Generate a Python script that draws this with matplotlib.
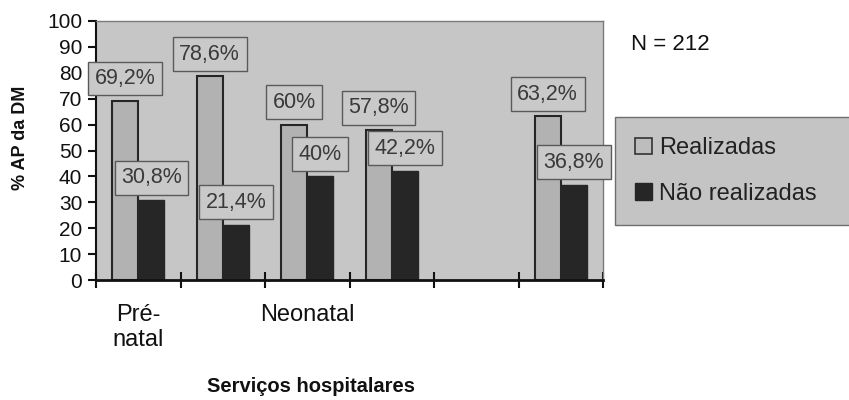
import numpy as np
import matplotlib
matplotlib.use("Agg")
import matplotlib.pyplot as plt
from matplotlib.patches import Patch

plt.rcParams["font.family"] = ["Liberation Sans", "DejaVu Sans"]

# ===============================
# Dados
# ===============================
servicos = ["Pré-\nnatal", "", "Neonatal", "", "", ""]
realizadas = [69.2, 78.6, 60.0, 57.8, np.nan, 63.2]
nao_realizadas = [30.8, 21.4, 40.0, 42.2, np.nan, 36.8]
rotulos_real = ["69,2%", "78,6%", "60%", "57,8%", "", "63,2%"]
rotulos_nao = ["30,8%", "21,4%", "40%", "42,2%", "", "36,8%"]
yticks = list(range(0, 101, 10))

# ===============================
# Figura
# ===============================
fig = plt.figure(figsize=(8.49, 4.0), dpi=100, facecolor="white")
ax = fig.add_axes([0.1131, 0.30, 0.5972, 0.6475])
ax.set_facecolor("#c6c6c6")

x = np.arange(len(servicos))
larg = 0.31

ax.bar(x - larg / 2, realizadas, larg, color="#b2b2b2",
       edgecolor="#262626", linewidth=1.5, zorder=2)
ax.bar(x + larg / 2, nao_realizadas, larg, color="#262626",
       edgecolor="#262626", linewidth=1.0, zorder=2)

caixa = dict(boxstyle="square,pad=0.3", facecolor="#c9c9c9",
             edgecolor="#5a5a5a", linewidth=1.0)

for i in range(len(servicos)):
    for dx, v, txt in [(-larg / 2, realizadas[i], rotulos_real[i]),
                       (larg / 2, nao_realizadas[i], rotulos_nao[i])]:
        if txt == "":
            continue
        ax.annotate(txt, xy=(x[i] + dx, v), xytext=(0, 8.5),
                    textcoords="offset points", ha="center", va="bottom",
                    fontsize=15.5, color="#3a3a3a", bbox=caixa, zorder=5)

ax.set_xlim(-0.5, len(servicos) - 0.5)
ax.set_ylim(0, 100)
ax.set_yticks(yticks)
ax.tick_params(axis="y", direction="out", length=6, width=1.5,
               labelsize=15, pad=4, colors="#111111")

ax.set_xticks(x)
ax.set_xticklabels(servicos, fontsize=17, color="#111111")
ax.tick_params(axis="x", which="major", length=0, pad=17)
ax.set_xticks(np.arange(len(servicos) + 1) - 0.5, minor=True)
ax.tick_params(axis="x", which="minor", direction="inout", length=12,
               width=1.5, color="#111111")

ax.spines["left"].set_color("#111111")
ax.spines["left"].set_linewidth(1.5)
ax.spines["bottom"].set_color("#111111")
ax.spines["bottom"].set_linewidth(2.0)
ax.spines["top"].set_color("#7a7a7a")
ax.spines["top"].set_linewidth(1.0)
ax.spines["right"].set_color("#7a7a7a")
ax.spines["right"].set_linewidth(1.0)

# ===============================
# Textos
# ===============================
fig.text(311 / 849, 1 - 386 / 400, "Serviços hospitalares",
         ha="center", va="center", fontsize=14.5, fontweight="bold",
         color="#111111")
fig.text(21 / 849, 1 - 138 / 400, "% AP da DM", rotation=90,
         ha="center", va="center", fontsize=13, fontweight="bold",
         color="#111111")
fig.text(631 / 849, 1 - 44 / 400, "N = 212", ha="left", va="center",
         fontsize=16, color="#111111")

# ===============================
# Legenda
# ===============================
handles = [
    Patch(facecolor="#bdbdbd", edgecolor="#333333", linewidth=1.2,
          label="Realizadas"),
    Patch(facecolor="#262626", edgecolor="#262626", label="Não realizadas"),
]
leg = fig.legend(handles=handles, loc="upper left",
                 bbox_to_anchor=(615 / 849, 1 - 117 / 400, 0.4, 0.0),
                 mode="expand", fontsize=17, frameon=True, fancybox=False,
                 framealpha=1, facecolor="#c4c4c4", edgecolor="#6e6e6e",
                 handlelength=0.7, handleheight=0.7, handletextpad=0.3,
                 labelspacing=1.0, borderpad=0.85, borderaxespad=0)
leg.get_frame().set_linewidth(1.0)
for t in leg.get_texts():
    t.set_color("#222222")

fig.savefig("out.png", dpi=100, facecolor="white")
